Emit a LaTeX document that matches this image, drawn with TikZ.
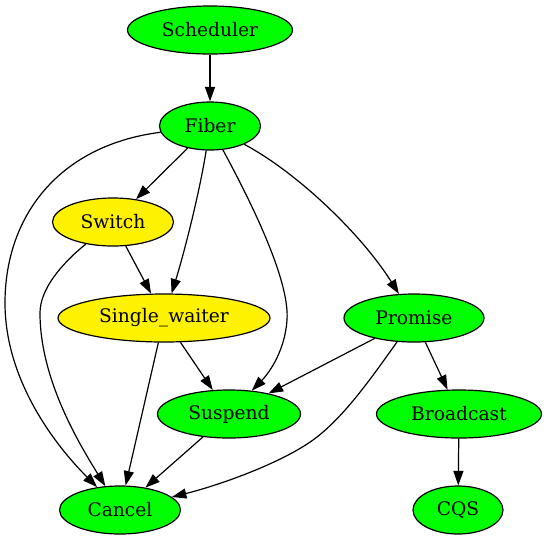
\documentclass[tikz,border=0pt]{standalone}
\usepackage{fontspec}
\setmainfont{DejaVu Serif}
\usepackage{xcolor}
\usepackage{tikz}
\usetikzlibrary{shapes.geometric}
\usetikzlibrary{arrows.meta}

\begin{document}
\begin{tikzpicture}[x=1pt,y=-1pt,line width=1.2pt,
  state/.style={ellipse,draw=black,fill=green,minimum height=48pt,inner sep=0pt,font=\fontsize{18.67}{22}\selectfont},
  waitstate/.style={state,fill=yellow},
  edge/.style={-{Triangle[length=14.5pt,width=10pt]}}]
\useasboundingbox (0,0) rectangle (546,539);

\node[state,minimum width=165pt] (sch) at (210,30) {Scheduler};
\node[state,minimum width=101pt] (fib) at (210,126) {Fiber};
\node[waitstate,minimum width=121pt] (swi) at (113,222) {Switch};
\node[waitstate,minimum width=212pt] (sgw) at (164,318) {Single\_waiter};
\node[state,minimum width=140pt] (pro) at (414,318) {Promise};
\node[state,minimum width=143pt] (sus) at (229,414) {Suspend};
\node[state,minimum width=165pt] (bro) at (459,414) {Broadcast};
\node[state,minimum width=121pt] (can) at (120,510) {Cancel};
\node[state,minimum width=90pt] (cqs) at (458,510) {CQS};

\draw[edge] (sch) -- (fib);
\draw[edge] (fib) -- (swi);
\draw[edge] (fib) .. controls (200,190) and (185,250) .. (sgw);
\draw[edge] (fib) .. controls (250,200) and (290,280) .. (287,320) .. controls (285,350) and (270,372) .. (sus);
\draw[edge] (fib) .. controls (298,173) and (362,235) .. (pro);
% \draw[edge] (fib) to[out=190,in=135] (can);
\draw[edge] (fib) .. controls (60,145) and (5,215) .. (5,303) .. controls (5,380) and (55,445) .. (can);

\draw[edge] (swi) -- (sgw);
\draw[edge] (swi) .. controls (60,265) and (40,290) .. (40,313) .. controls (40,380) and (80,445) .. (can);

\draw[edge] (sgw) -- (sus);
\draw[edge] (sgw) -- (can);

\draw[edge] (pro) -- (sus);
\draw[edge] (pro) -- (bro);
\draw[edge] (pro) .. controls (370,380) and (345,415) .. (317,437) .. controls (285,462) and (220,485) .. (can);

\draw[edge] (sus) -- (can);
\draw[edge] (bro) -- (cqs);
\end{tikzpicture}
\end{document}
